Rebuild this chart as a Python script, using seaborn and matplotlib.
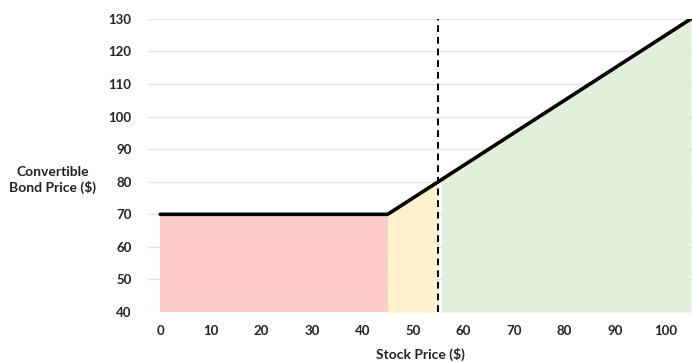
import numpy as np
import pandas as pd
import matplotlib
matplotlib.use("Agg")
import matplotlib.pyplot as plt
import seaborn as sns

# Data
stock_price = [0, 45, 105]
bond_price = [70, 70, 130]
conversion_start = 45
threshold = 55
x_ticks = [0, 10, 20, 30, 40, 50, 60, 70, 80, 90, 100]
y_ticks = [40, 50, 60, 70, 80, 90, 100, 110, 120, 130]

sns.set_theme(style="white")
plt.rcParams['font.family'] = ['Lato', 'DejaVu Sans']

fig = plt.figure(figsize=(6.92, 3.62), dpi=100)
ax = fig.add_axes([0.214, 0.138, 0.786, 0.810])

df = pd.DataFrame({"Stock": stock_price, "Bond": bond_price})

def curve(a, b):
    xs = np.linspace(a, b, 50)
    return xs, np.interp(xs, stock_price, bond_price)

xr, yr = curve(0, conversion_start)
ax.fill_between(xr, 40, yr, color="#FFCCCC", lw=0)
xy_, yy_ = curve(conversion_start, threshold)
ax.fill_between(xy_, 40, yy_, color="#FFF2CC", lw=0)
xg, yg = curve(threshold + 0.6, stock_price[-1])
ax.fill_between(xg, 40, yg, color="#E2EFDA", lw=0)

sns.lineplot(data=df, x="Stock", y="Bond", ax=ax, color="black", lw=2.6, zorder=5)
ax.axvline(threshold, color="black", ls=(0, (3.5, 2.5)), lw=1.4, zorder=6)

ax.set_xlim(-2.4, 105.2)
ax.set_ylim(40, 130)
ax.set_xticks(x_ticks)
ax.set_yticks(y_ticks)
ax.yaxis.grid(True, color="#E3E3E3", lw=1)
ax.set_axisbelow(True)
for s in ax.spines.values():
    s.set_visible(False)

ax.tick_params(axis="both", length=0, labelsize=9.5, colors="#222222")
for lab in ax.get_xticklabels() + ax.get_yticklabels():
    lab.set_fontweight("bold")
ax.tick_params(axis="x", pad=9)
ax.tick_params(axis="y", pad=12)

ax.set_xlabel("Stock Price ($)", fontsize=10, fontweight="bold", color="#222222", labelpad=8)
ax.set_ylabel("Convertible\nBond Price ($)", fontsize=10, fontweight="bold", color="#222222",
              rotation=0, ha="center", va="center", labelpad=0)
ax.yaxis.set_label_coords(-0.175, 0.45)

fig.savefig("out.png", dpi=100)
